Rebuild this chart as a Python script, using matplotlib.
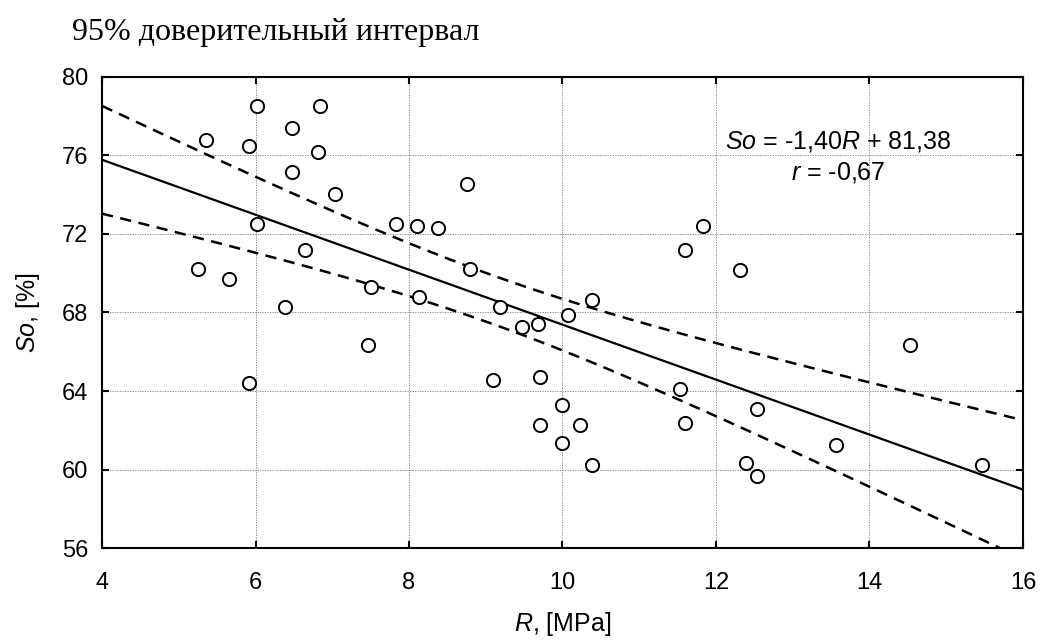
import numpy as np
import matplotlib
matplotlib.use('Agg')
from matplotlib import pyplot as plt

# data
R = [5.25, 5.35, 5.66, 5.92, 5.92, 6.02, 6.02, 6.38, 6.47, 6.47,
     6.65, 6.81, 6.84, 7.04, 7.46, 7.51, 7.83, 8.11, 8.13, 8.38,
     8.76, 8.79, 9.10, 9.18, 9.47, 9.68, 9.71, 9.71, 9.99, 9.99,
     10.07, 10.23, 10.38, 10.38, 11.53, 11.60, 11.60, 11.83, 12.31, 12.39,
     12.54, 12.54, 13.56, 14.53, 15.47]
So = [70.24, 76.79, 69.73, 76.48, 64.40, 78.54, 72.50, 68.30, 77.38, 75.15,
      71.16, 76.17, 78.54, 74.02, 66.36, 69.30, 72.50, 72.40, 68.79, 72.28,
      74.52, 70.24, 64.54, 68.28, 67.26, 67.40, 64.71, 62.28, 63.30, 61.34,
      67.86, 62.28, 68.62, 60.24, 64.12, 71.16, 62.36, 72.40, 70.15, 60.32,
      63.10, 59.69, 61.26, 66.36, 60.24]
slope = -1.40
intercept = 81.38
r_coef = -0.67
t_95 = 2.017  # df = 43

x_ticks = [4, 6, 8, 10, 12, 14, 16]
y_ticks = [56, 60, 64, 68, 72, 76, 80]

R = np.array(R)
So = np.array(So)

plt.rcParams['mathtext.fontset'] = 'custom'
plt.rcParams['mathtext.it'] = 'Liberation Sans:italic'
plt.rcParams['mathtext.rm'] = 'Liberation Sans'

# line and 95% confidence band for the mean
xs = np.linspace(4, 16, 200)
ys = slope * xs + intercept
n = len(R)
resid = So - (slope * R + intercept)
s = np.sqrt(np.sum(resid ** 2) / (n - 2))
sxx = np.sum((R - R.mean()) ** 2)
half = t_95 * s * np.sqrt(1.0 / n + (xs - R.mean()) ** 2 / sxx)

fig = plt.figure(figsize=(10.43, 6.41), dpi=100)
ax = fig.add_axes([0.0978, 0.145, 0.883, 0.735])

ax.grid(True, color='#777777', linestyle=(0, (1.5, 1.5)), linewidth=0.6)
ax.set_axisbelow(True)

ax.plot(xs, ys, color='black', lw=1.6, zorder=3)
ax.plot(xs, ys + half, color='black', lw=1.8, linestyle=(0, (4.5, 3)), zorder=3)
ax.plot(xs, ys - half, color='black', lw=1.8, linestyle=(0, (4.5, 3)), zorder=3)
ax.plot(R, So, 'o', mfc='white', mec='black', mew=1.4, ms=9.5, zorder=4,
        linestyle='none')

ax.set_xlim(4, 16)
ax.set_ylim(56, 80)
ax.set_xticks(x_ticks)
ax.set_yticks(y_ticks)

for sp in ax.spines.values():
    sp.set_linewidth(1.5)
ax.tick_params(direction='in', length=5, width=1.5, top=True, right=True,
               labelsize=17)
ax.tick_params(axis='x', pad=17)
ax.tick_params(axis='y', pad=10)
for lab in ax.get_xticklabels() + ax.get_yticklabels():
    lab.set_family('Liberation Sans')

ax.set_xlabel(r'$\it{R}$, [MPa]', fontsize=18, family='Liberation Sans', labelpad=12)
ax.set_ylabel(r'$\it{So}$, [%]', fontsize=18, family='Liberation Sans', labelpad=14)

eq = r'$\it{So}$ = ' + ('%.2f' % slope).replace('.', ',') + r'$\it{R}$ + ' + ('%.2f' % intercept).replace('.', ',')
ax.text(0.799, 0.862, eq, transform=ax.transAxes, ha='center', va='center',
        fontsize=18, family='Liberation Sans')
ax.text(0.799, 0.798, r'$\it{r}$ = ' + ('%.2f' % r_coef).replace('.', ','),
        transform=ax.transAxes, ha='center', va='center',
        fontsize=18, family='Liberation Sans')

fig.text(0.069, 0.950, '95% доверительный интервал', fontsize=23,
         family='Liberation Serif', ha='left', va='center')

fig.savefig('out.png', dpi=100)
